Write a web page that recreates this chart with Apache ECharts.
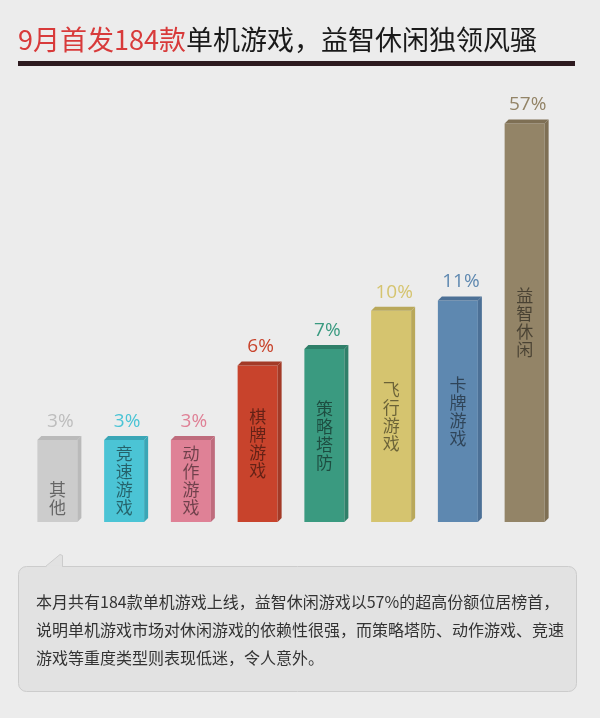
<!DOCTYPE html>
<html>
<head>
<meta charset="utf-8">
<script src="https://cdn.jsdelivr.net/npm/echarts@6/dist/echarts.min.js"></script>
<style>
html,body{margin:0;padding:0;background:#ececec;}
#chart{width:600px;height:718px;}
</style>
</head>
<body>
<div id="chart"></div>
<script>
// ---- data ----
const categories = ['其他', '竞速游戏', '动作游戏', '棋牌游戏', '策略塔防', '飞行游戏', '卡牌游戏', '益智休闲'];
const shares = [3, 3, 3, 6, 7, 10, 11, 57];
const titleRed = '9月首发184款';
const titleBlack = '单机游戏，益智休闲独领风骚';
const noteLines = [
  '本月共有184款单机游戏上线，益智休闲游戏以57%的超高份额位居榜首，',
  '说明单机游戏市场对休闲游戏的依赖性很强，而策略塔防、动作游戏、竞速',
  '游戏等重度类型则表现低迷，令人意外。'
];

// ---- styles ----
const frontColors = ['#cccccc', '#4bc4d5', '#df8196', '#c8432c', '#3a9a80', '#d5c46f', '#5e88b0', '#938467'];
const sideColors  = ['#bababa', '#3aa6b6', '#bf6c7d', '#a33a27', '#2f7f69', '#b9a85a', '#4c7096', '#7e6f54'];
const labelColors = ['#bdbdbd', '#4bc4d5', '#df8196', '#c8432c', '#3a9a80', '#d5c46f', '#5e88b0', '#938467'];
const Y_MIN = 1.40, Y_MAX = 60;

const chart = echarts.init(document.getElementById('chart'));

function renderItem(params, api) {
  const i = api.value(0), v = api.value(1);
  const top = api.coord([i, v]);
  const base = api.coord([i, Y_MIN]);
  const cx = top[0], w = 40, d = 4;
  const x0 = cx - w / 2, x1 = cx + w / 2, yT = top[1], yB = base[1];
  const idx = params.dataIndex;
  let name = categories[idx].split('').join('\n');
  if (categories[idx].length === 2) name = '\n\n' + name;
  return {
    type: 'group',
    children: [
      { type: 'rect', shape: { x: x0, y: yT, width: w, height: yB - yT }, style: { fill: frontColors[idx] } },
      { type: 'polygon', shape: { points: [[x1, yT], [x1 + d, yT - d], [x1 + d, yB - d], [x1, yB]] }, style: { fill: sideColors[idx] } },
      { type: 'polygon', shape: { points: [[x0, yT], [x0 + d, yT - d], [x1 + d, yT - d], [x1, yT]] }, style: { fill: sideColors[idx] } },
      { type: 'text', x: cx + 3, y: yT - d - 5,
        style: { text: v + '%', fill: labelColors[idx], fontSize: 19, fontFamily: 'Open Sans', align: 'center', verticalAlign: 'bottom' } },
      { type: 'text', x: cx, y: (yT + yB) / 2,
        style: { text: name, fill: 'rgba(0,0,0,0.5)', fontSize: 17, fontFamily: 'Noto Sans CJK SC', lineHeight: 18, align: 'center', verticalAlign: 'middle' } }
    ]
  };
}

chart.setOption({
  backgroundColor: '#ececec',
  animation: false,
  grid: { left: 24, right: 42, top: 118, bottom: 196 },
  xAxis: { type: 'category', data: categories, show: false },
  yAxis: { type: 'log', min: Y_MIN, max: Y_MAX, show: false },
  series: [{
    type: 'custom',
    renderItem: renderItem,
    encode: { x: 0, y: 1 },
    data: shares.map((v, i) => [i, v])
  }],
  graphic: [
    { type: 'text', x: 18, y: 40,
      style: {
        text: '{r|' + titleRed + '}{b|' + titleBlack + '}',
        verticalAlign: 'middle',
        rich: {
          r: { fill: '#d83a3a', fontSize: 27, fontFamily: 'Noto Sans CJK SC' },
          b: { fill: '#1a1a1a', fontSize: 27, fontFamily: 'Noto Sans CJK SC' }
        }
      } },
    { type: 'rect', shape: { x: 18, y: 61, width: 557, height: 5 }, style: { fill: '#2d1a1f' } },
    { type: 'rect', shape: { x: 18.5, y: 566.5, width: 558, height: 125, r: 8 }, style: { fill: '#e2e2e2', stroke: '#cccccc', lineWidth: 1 } },
    { type: 'polygon', shape: { points: [[45.5, 566.5], [60, 554.5], [62.5, 555.5], [62.5, 566.5]] }, style: { fill: '#e2e2e2', stroke: '#cccccc', lineWidth: 1 } },
    { type: 'rect', shape: { x: 46.5, y: 565.8, width: 15.5, height: 1.8 }, style: { fill: '#e2e2e2' } },
    { type: 'text', x: 36, y: 588,
      style: { text: noteLines.join('\n'), fill: '#333333', fontSize: 16, fontFamily: 'Noto Sans CJK SC', lineHeight: 28, verticalAlign: 'top' } }
  ]
});
</script>
</body>
</html>
